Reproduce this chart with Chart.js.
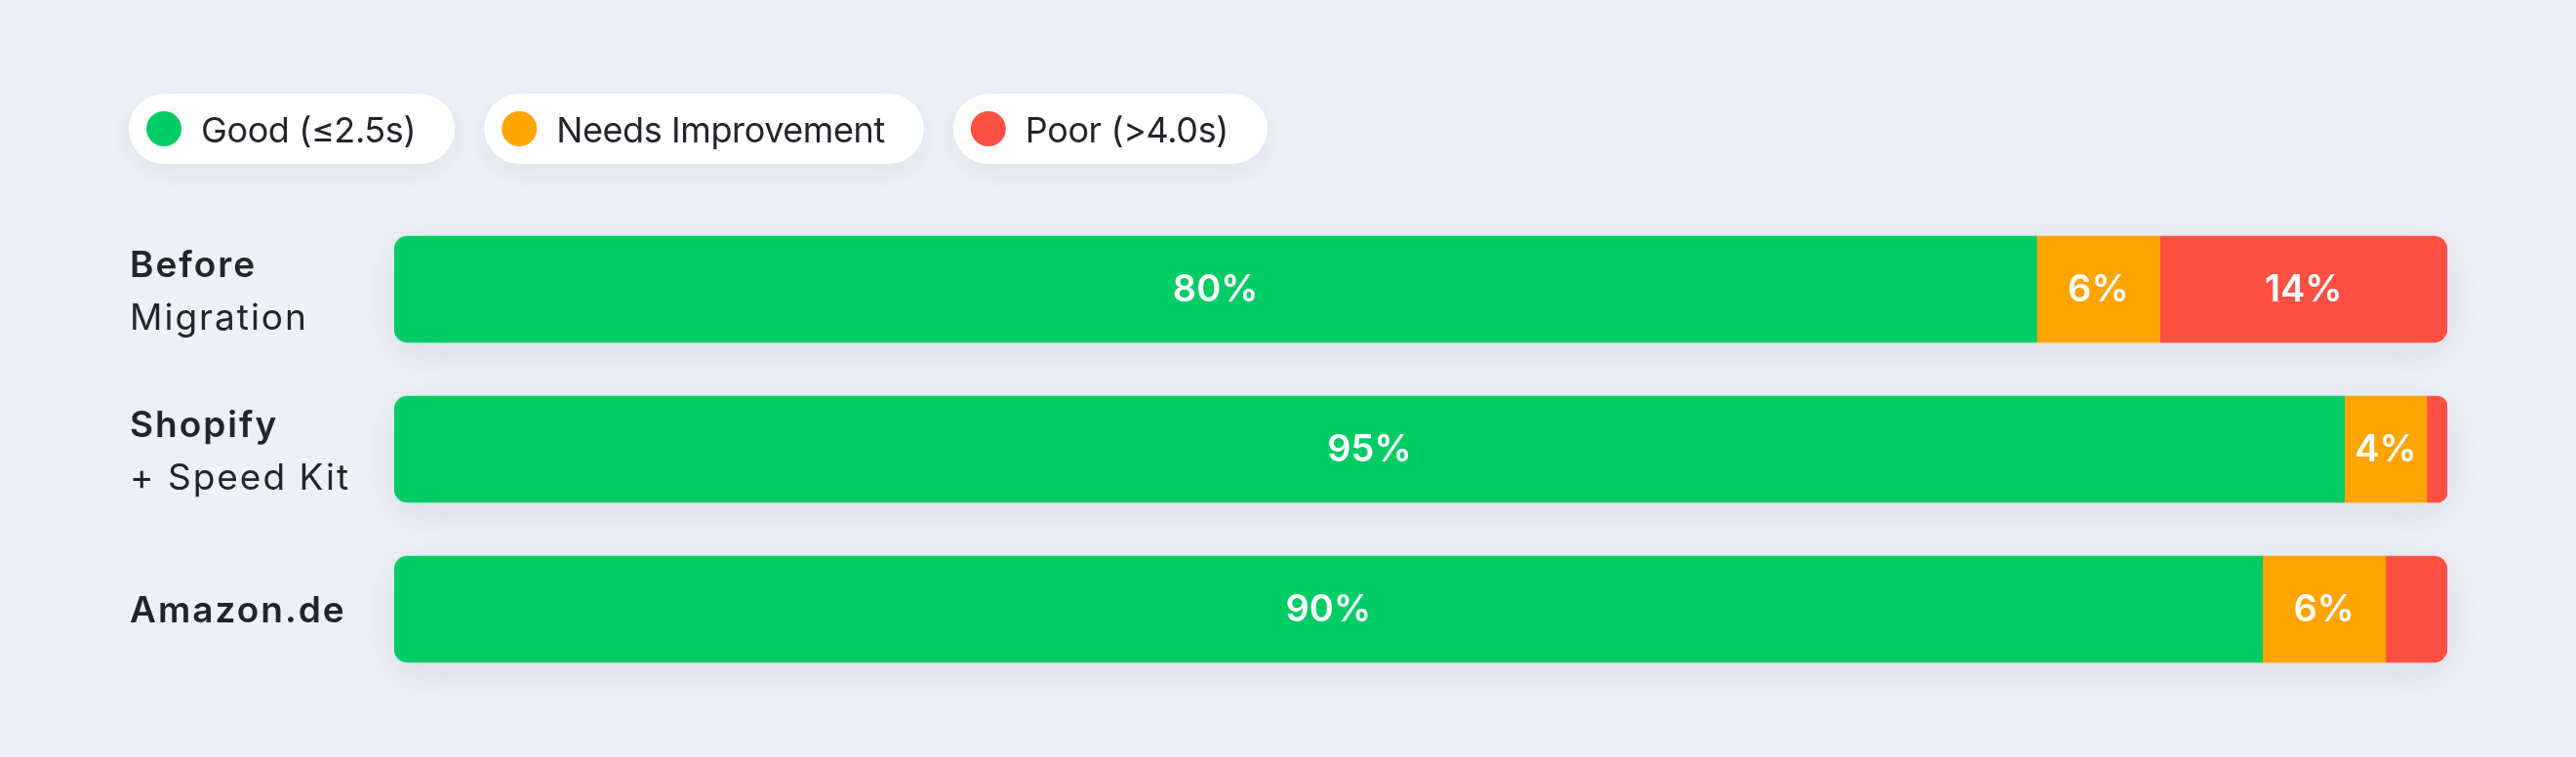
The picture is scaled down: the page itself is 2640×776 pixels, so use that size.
<!DOCTYPE html>
<html>
<head>
<meta charset="utf-8">
<script src="https://cdn.jsdelivr.net/npm/chart.js@4.4.1/dist/chart.umd.min.js"></script>
<style>
  html, body { margin: 0; padding: 0; background: #edf0f6; }
  #wrap { width: 2640px; height: 776px; position: relative; }
</style>
</head>
<body>
<div id="wrap"><canvas id="myChart"></canvas></div>
<script>
const categories = [['Before', 'Migration'], ['Shopify', '+ Speed Kit'], ['Amazon.de']];
const seriesNames = ['Good (≤2.5s)', 'Needs Improvement', 'Poor (>4.0s)'];
const goodValues = [80, 95, 91];
const needsValues = [6, 4, 6];
const poorValues = [14, 1, 3];
const goodText = ['80%', '95%', '90%'];
const needsText = ['6%', '4%', '6%'];
const poorText = ['14%', '', ''];
const colors = ['#00cc66', '#ffa400', '#ff5043'];

const FONT = 'Inter, "Noto Sans", sans-serif';
const TEXT_COLOR = '#23242e';

// soft shadow under each full bar
const barShadow = {
    id: 'barShadow',
    beforeDatasetsDraw(chart) {
        const ctx = chart.ctx;
        const first = chart.getDatasetMeta(0).data;
        const last = chart.getDatasetMeta(chart.data.datasets.length - 1).data;
        ctx.save();
        first.forEach((bar, i) => {
            const left = bar.base;
            const right = last[i].x;
            ctx.shadowColor = 'rgba(40, 50, 80, 0.11)';
            ctx.shadowBlur = 44;
            ctx.shadowOffsetY = 10;
            ctx.fillStyle = '#e9ecf2';
            ctx.beginPath();
            ctx.roundRect(left, bar.y - bar.height / 2, right - left, bar.height, 14);
            ctx.fill();
        });
        ctx.restore();
    }
};

// legend pills at the top
const pillLegend = {
    id: 'pillLegend',
    afterDraw(chart) {
        const ctx = chart.ctx;
        let x = 132;
        const y = 96, h = 72;
        ctx.save();
        ctx.font = '400 36px ' + FONT;
        ctx.letterSpacing = '-0.4px';
        chart.data.datasets.forEach((ds) => {
            const tw = ctx.measureText(ds.label).width;
            const w = 18 + 36 + 20 + tw + 40;
            ctx.save();
            ctx.shadowColor = 'rgba(40, 50, 80, 0.08)';
            ctx.shadowBlur = 30;
            ctx.shadowOffsetY = 8;
            ctx.fillStyle = '#ffffff';
            ctx.beginPath();
            ctx.roundRect(x, y, w, h, h / 2);
            ctx.fill();
            ctx.restore();
            ctx.fillStyle = ds.backgroundColor;
            ctx.beginPath();
            ctx.arc(x + 36, y + h / 2, 18, 0, Math.PI * 2);
            ctx.fill();
            ctx.fillStyle = TEXT_COLOR;
            ctx.textBaseline = 'alphabetic';
            ctx.fillText(ds.label, x + 74, y + 50);
            x += w + 30;
        });
        ctx.restore();
    }
};

// category names to the left of the bars
const categoryNames = {
    id: 'categoryNames',
    afterDraw(chart) {
        const ctx = chart.ctx;
        const yScale = chart.scales.y;
        ctx.save();
        ctx.fillStyle = TEXT_COLOR;
        ctx.textBaseline = 'alphabetic';
        ctx.textAlign = 'left';
        ctx.letterSpacing = '2px';
        chart.data.labels.forEach((lines, i) => {
            const cy = yScale.getPixelForValue(i);
            if (lines.length === 1) {
                ctx.font = '600 37px ' + FONT;
                ctx.fillText(lines[0], 133, cy + 13);
            } else {
                ctx.font = '600 37px ' + FONT;
                ctx.fillText(lines[0], 133, cy - 13);
                ctx.font = '400 37px ' + FONT;
                ctx.fillText(lines[1], 133, cy + 41);
            }
        });
        ctx.restore();
    }
};

// percentage texts in the segments
const segmentText = {
    id: 'segmentText',
    afterDatasetsDraw(chart) {
        const ctx = chart.ctx;
        ctx.save();
        ctx.fillStyle = '#ffffff';
        ctx.font = '600 38px ' + FONT;
        ctx.textAlign = 'center';
        ctx.textBaseline = 'alphabetic';
        chart.data.datasets.forEach((ds, d) => {
            chart.getDatasetMeta(d).data.forEach((bar, i) => {
                const t = ds.texts[i];
                if (!t) return;
                ctx.fillText(t, (bar.x + bar.base) / 2, bar.y + 12);
            });
        });
        ctx.restore();
    }
};

const data = {
    labels: categories,
    datasets: [
        { label: seriesNames[0], data: goodValues, texts: goodText, backgroundColor: colors[0],
          borderRadius: { topLeft: 14, bottomLeft: 14, topRight: 0, bottomRight: 0 } },
        { label: seriesNames[1], data: needsValues, texts: needsText, backgroundColor: colors[1],
          borderRadius: 0 },
        { label: seriesNames[2], data: poorValues, texts: poorText, backgroundColor: colors[2],
          borderRadius: { topLeft: 0, bottomLeft: 0, topRight: 14, bottomRight: 14 } }
    ]
};

const config = {
    type: 'bar',
    data: data,
    options: {
        indexAxis: 'y',
        responsive: true,
        maintainAspectRatio: false,
        animation: false,
        layout: { padding: { left: 404, right: 132, top: 214.5, bottom: 69.5 } },
        datasets: { bar: { barThickness: 109, borderSkipped: false, borderWidth: 0 } },
        scales: {
            x: { stacked: true, min: 0, max: 100, display: false },
            y: { stacked: true, display: false }
        },
        plugins: {
            legend: { display: false },
            tooltip: { enabled: false }
        }
    },
    plugins: [barShadow, pillLegend, categoryNames, segmentText]
};

var myChart = new Chart(document.getElementById('myChart'), config);
</script>
</body>
</html>
